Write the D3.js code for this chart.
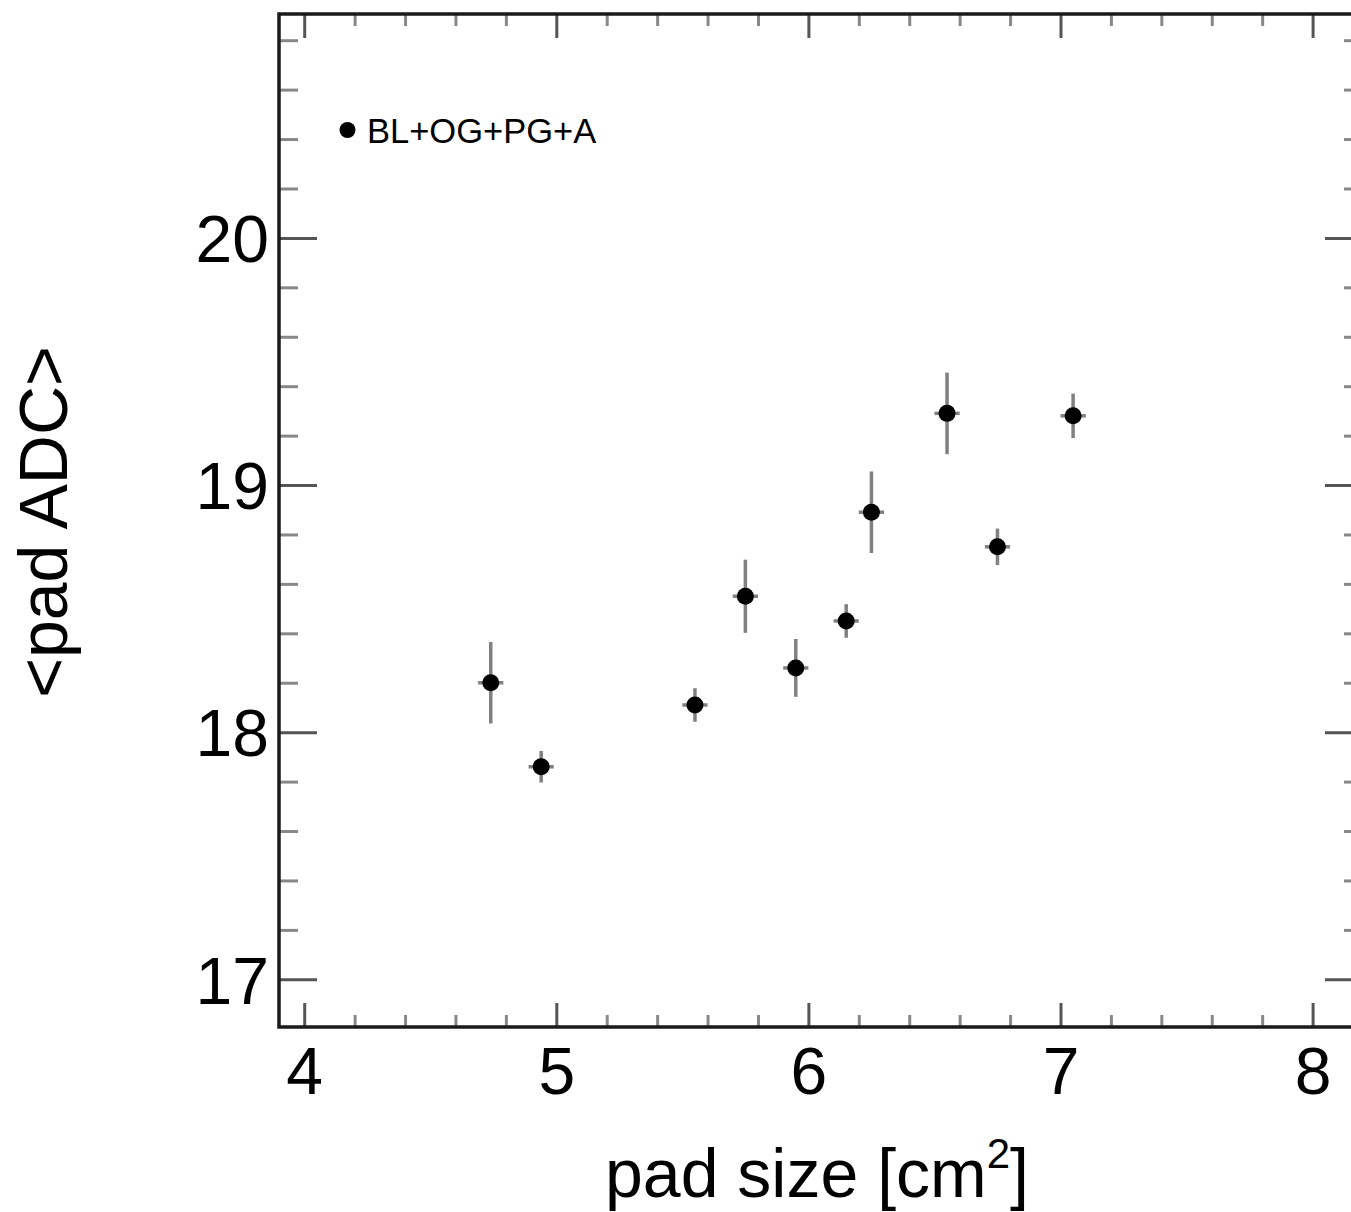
<!DOCTYPE html>
<html>
<head>
<meta charset="utf-8">
<script src="https://cdn.jsdelivr.net/npm/d3@7"></script>
<style>
    body { margin: 0; background: #fff; }
    svg { display: block; font-family: "Liberation Sans", Arial, Helvetica, sans-serif; }
</style>
</head>
<body>
<div id="grafico"></div>
<script>

// valores
const padSize = [4.74, 4.94, 5.55, 5.75, 5.95, 6.15, 6.25, 6.55, 6.75, 7.05];
const padAdc = [18.20, 17.86, 18.11, 18.55, 18.26, 18.45, 18.89, 19.29, 18.75, 19.28];
const erroAdc = [0.165, 0.064, 0.068, 0.148, 0.117, 0.068, 0.165, 0.165, 0.074, 0.09];
const erroSize = [0.05, 0.05, 0.05, 0.05, 0.05, 0.05, 0.05, 0.05, 0.05, 0.05];

const ticksX = [4, 5, 6, 7, 8];
const ticksY = [17, 18, 19, 20];
const legenda = "BL+OG+PG+A";

const largura = 1351, altura = 1212;
const area = {left: 279, right: 1363, top: 14, bottom: 1027};

const x = d3.scaleLinear().domain([3.9, 8.2]).range([area.left, area.right]);
const y = d3.scaleLinear().domain([16.807, 20.906]).range([area.bottom, area.top]);

const minorX = d3.range(4, 8.21, 0.2).filter(v => !ticksX.some(t => Math.abs(t - v) < 1e-6));
const minorY = d3.range(17, 20.91, 0.2).filter(v => !ticksY.some(t => Math.abs(t - v) < 1e-6));

const svg = d3.select("#grafico").append("svg")
    .attr("width", largura)
    .attr("height", altura);

const pontos = padSize.map((v, i) => ({x: v, y: padAdc[i], ey: erroAdc[i], ex: erroSize[i]}));

// eixos (ticks para dentro nos quatro lados)
function desenharEixo(eixo, transform, cor){
    const g = svg.append("g").attr("transform", transform).call(eixo);
    g.select(".domain").remove();
    g.selectAll(".tick line").attr("stroke", cor).attr("stroke-width", 3);
    return g;
}

desenharEixo(d3.axisBottom(x).tickValues(minorX).tickSize(-12).tickFormat(""), `translate(0,${area.bottom})`, "#888");
desenharEixo(d3.axisTop(x).tickValues(minorX).tickSize(-12).tickFormat(""), `translate(0,${area.top})`, "#888");
desenharEixo(d3.axisLeft(y).tickValues(minorY).tickSize(-19).tickFormat(""), `translate(${area.left},0)`, "#888");
desenharEixo(d3.axisRight(y).tickValues(minorY).tickSize(-19).tickFormat(""), `translate(${area.right},0)`, "#888");

const eixoX = desenharEixo(d3.axisBottom(x).tickValues(ticksX).tickSize(-24).tickPadding(20).tickFormat(d3.format("d")),
    `translate(0,${area.bottom})`, "#555");
eixoX.selectAll("text").attr("font-size", 66).attr("fill", "#000");

desenharEixo(d3.axisTop(x).tickValues(ticksX).tickSize(-24).tickFormat(""), `translate(0,${area.top})`, "#555");

const eixoY = desenharEixo(d3.axisLeft(y).tickValues(ticksY).tickSize(-38).tickPadding(10).tickFormat(d3.format("d")),
    `translate(${area.left},0)`, "#555");
eixoY.selectAll("text").attr("font-size", 66).attr("fill", "#000").attr("dy", "0.36em");

desenharEixo(d3.axisRight(y).tickValues(ticksY).tickSize(-38).tickFormat(""), `translate(${area.right},0)`, "#555");

// moldura
svg.append("rect")
    .attr("x", area.left).attr("y", area.top)
    .attr("width", area.right - area.left).attr("height", area.bottom - area.top)
    .attr("fill", "none").attr("stroke", "#1a1a1a").attr("stroke-width", 3.5);

// barras de erro
const gErro = svg.append("g").attr("stroke", "#808080").attr("stroke-width", 3.5);

gErro.selectAll(".ey").data(pontos).enter().append("line")
    .attr("x1", d => x(d.x)).attr("x2", d => x(d.x))
    .attr("y1", d => y(d.y - d.ey)).attr("y2", d => y(d.y + d.ey));

gErro.selectAll(".ex").data(pontos).enter().append("line")
    .attr("x1", d => x(d.x - d.ex)).attr("x2", d => x(d.x + d.ex))
    .attr("y1", d => y(d.y)).attr("y2", d => y(d.y));

svg.append("g").selectAll("circle").data(pontos).enter().append("circle")
    .attr("cx", d => x(d.x)).attr("cy", d => y(d.y))
    .attr("r", 8.5).attr("fill", "#000");

// legenda
svg.append("circle").attr("cx", 347.5).attr("cy", 130).attr("r", 8).attr("fill", "#000");
svg.append("text").attr("x", 367).attr("y", 143)
    .attr("font-size", 34.5).attr("fill", "#000").text(legenda);

// titulos
const tituloX = svg.append("text").attr("x", 605).attr("y", 1197)
    .attr("font-size", 68).attr("fill", "#000");
tituloX.append("tspan").text("pad size [cm");
tituloX.append("tspan").attr("font-size", 42).attr("dy", -29).text("2");
tituloX.append("tspan").attr("dy", 29).text("]");

svg.append("text")
    .attr("transform", "translate(67,522) rotate(-90)")
    .attr("text-anchor", "middle")
    .attr("font-size", 68).attr("fill", "#000")
    .text("<pad ADC>");

</script>
</body>
</html>
